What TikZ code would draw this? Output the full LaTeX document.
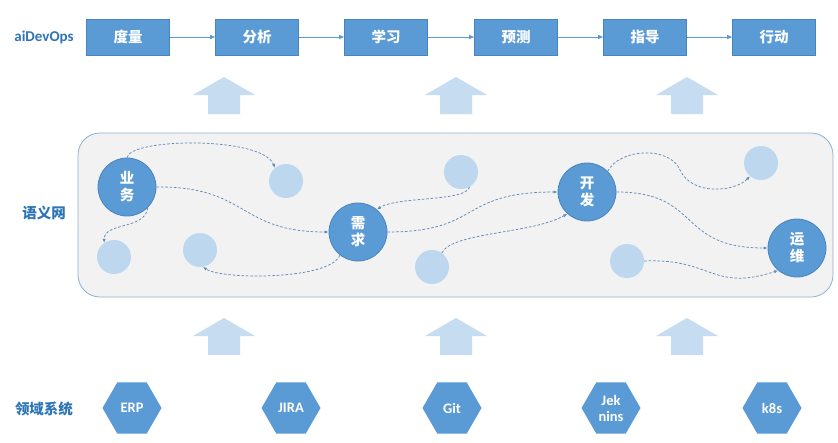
\documentclass[tikz,border=0pt]{standalone}
\usepackage{fontspec}
\setmainfont{Carlito}
\newfontfamily\cjk{Noto Sans CJK SC}
\usetikzlibrary{arrows.meta,shapes.geometric}
\definecolor{boxblue}{HTML}{5B9BD5}
\definecolor{boxedge}{HTML}{4A84BC}
\definecolor{lightblue}{HTML}{BDD7EE}
\definecolor{arrowblue}{HTML}{C5DCF1}
\definecolor{dashblue}{HTML}{5F8BBB}
\definecolor{labelblue}{HTML}{2E75B6}
\definecolor{panelfill}{HTML}{F2F2F2}
\definecolor{paneledge}{HTML}{8EB1D3}
\tikzset{
  stagebox/.style={draw=boxedge, line width=0.6pt, fill=boxblue, minimum width=83pt, minimum height=36pt, inner sep=0pt, text=white, font=\cjk\fontsize{14.5}{16}\selectfont\bfseries},
  darkc/.style={circle, draw=boxedge, line width=0.8pt, fill=boxblue, minimum size=58pt, inner sep=0pt, text=white, align=center, font=\cjk\fontsize{14.5}{17}\selectfont\bfseries},
  lightc/.style={circle, fill=lightblue, minimum size=34pt, inner sep=0pt},
  hexa/.style={regular polygon, regular polygon sides=6, fill=boxblue, minimum size=59pt, inner sep=0pt, text=white, align=center, font=\fontsize{14.5}{16}\selectfont\bfseries},
  sidelabel/.style={text=labelblue, font=\cjk\fontsize{14.5}{16}\selectfont\bfseries},
  flow/.style={draw=boxblue, line width=0.9pt, -{Triangle[length=5pt,width=4pt]}},
  link/.style={draw=dashblue, line width=0.75pt, dash pattern=on 2.6pt off 1.8pt, -{Latex[length=4pt,width=3.2pt]}},
  blockarrow/.style={fill=arrowblue, draw=none}
}
\newcommand{\uparrowshape}[2]{%
  \fill[blockarrow] (#1,#2) -- (#1+31,#2+18) -- (#1+16,#2+18) -- (#1+16,#2+37) -- (#1-16,#2+37) -- (#1-16,#2+18) -- (#1-31,#2+18) -- cycle;}
\begin{document}
\begin{tikzpicture}[x=1pt,y=-1pt]
\useasboundingbox (0,0) rectangle (838,442);
\fill[white] (0,0) rectangle (838,442);

% top row
\node[text=labelblue, font=\fontsize{15}{17}\selectfont\bfseries] (aidevops) at (44,37) {aiDevOps};
\node[stagebox] (s1) at (128,37) {度量};
\node[stagebox] (s2) at (257,37) {分析};
\node[stagebox] (s3) at (386,37) {学习};
\node[stagebox] (s4) at (516,37) {预测};
\node[stagebox] (s5) at (645,37) {指导};
\node[stagebox] (s6) at (774,37) {行动};
\draw[flow] (s1) -- (s2);
\draw[flow] (s2) -- (s3);
\draw[flow] (s3) -- (s4);
\draw[flow] (s4) -- (s5);
\draw[flow] (s5) -- (s6);

% block arrows
\uparrowshape{224}{77}
\uparrowshape{456}{77}
\uparrowshape{687}{77}
\uparrowshape{224}{318}
\uparrowshape{456}{318}
\uparrowshape{687}{318}

% panel
\node[sidelabel] (semweb) at (44,213) {语义网};
\draw[fill=panelfill, draw=paneledge, line width=0.8pt, rounded corners=22pt] (78,133) rectangle (833,297);

% circles
\node[darkc] (yw) at (127,187) {业\\务};
\node[darkc] (xq) at (358,232) {需\\求};
\node[darkc] (kf) at (587,192) {开\\发};
\node[darkc] (ywei) at (797,248) {运\\维};
\node[lightc] (l1) at (286,181) {};
\node[lightc] (l2) at (114,257) {};
\node[lightc] (l3) at (200,250) {};
\node[lightc] (l4) at (461,172) {};
\node[lightc] (l5) at (432,267) {};
\node[lightc] (l6) at (627,261) {};
\node[lightc] (l7) at (761,163) {};

% dashed links
\draw[link] (yw.north) .. controls (130,138) and (262,136) .. (l1.130);
\draw[link] (yw.east) .. controls (248,186) and (238,232) .. (xq.west);
\draw[link] (yw.-45) .. controls (145,230) and (104,222) .. (l2.125);
\draw[link] (xq.232) .. controls (330,280) and (222,280) .. (l3.-80);
\draw[link] (l4.-60) .. controls (466,202) and (398,196) .. (xq.50);
\draw[link] (xq.east) .. controls (482,232) and (458,192) .. (kf.west);
\draw[link] (l5.55) .. controls (452,232) and (532,234) .. (kf.228);
\draw[link] (kf.45) .. controls (620,148) and (670,146) .. (680,170) .. controls (692,196) and (735,192) .. (l7.230);
\draw[link] (kf.east) .. controls (702,192) and (676,248) .. (ywei.west);
\draw[link] (l6.east) .. controls (712,258) and (712,292) .. (ywei.230);

% bottom row
\node[sidelabel] (domain) at (44,409) {领域系统};
\node[hexa] (erp) at (132,408) {ERP};
\node[hexa] (jira) at (291,408) {JIRA};
\node[hexa] (git) at (452,408) {Git};
\node[hexa] (jenkins) at (611,408) {Jek\\nins};
\node[hexa] (k8s) at (772,408) {k8s};
\end{tikzpicture}
\end{document}
